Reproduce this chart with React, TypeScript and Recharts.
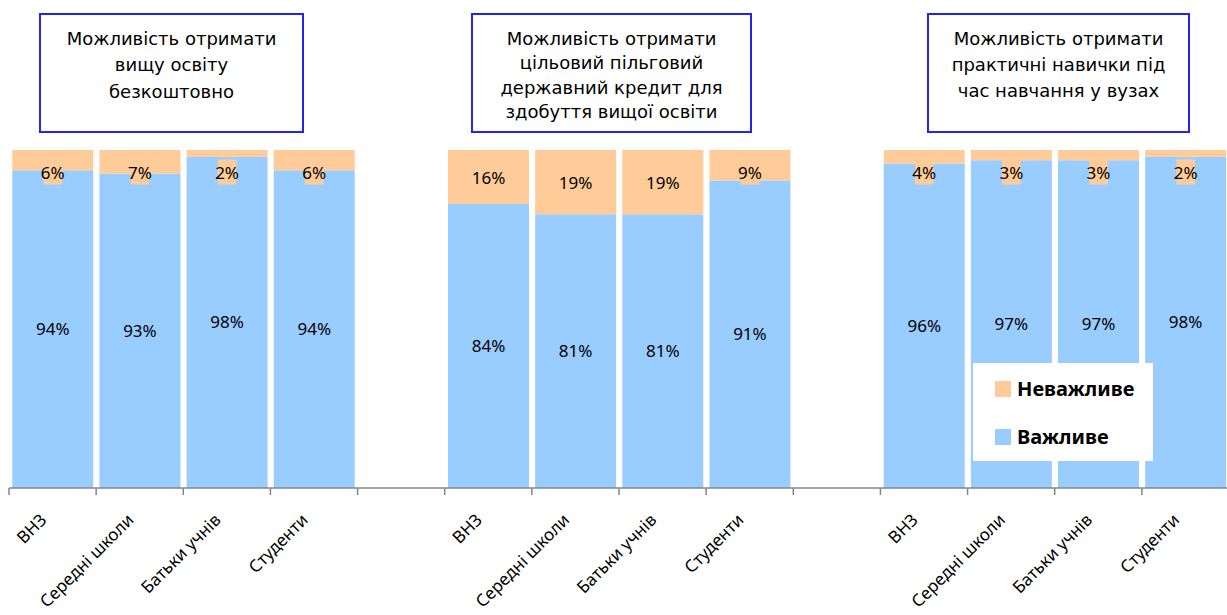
import React from 'react';
import { BarChart, Bar, XAxis, YAxis, LabelList } from 'recharts';

const groupLabels = ['ВНЗ', 'Середні школи', 'Батьки учнів', 'Студенти'];
const importantFree = [94, 93, 98, 94];
const unimportantFree = [6, 7, 2, 6];
const importantCredit = [84, 81, 81, 91];
const unimportantCredit = [16, 19, 19, 9];
const importantPractice = [96, 97, 97, 98];
const unimportantPractice = [4, 3, 3, 2];
const titles = [
  ['Можливість отримати', 'вищу освіту', 'безкоштовно'],
  ['Можливість отримати', 'цільовий пільговий', 'державний кредит для', 'здобуття вищої освіти'],
  ['Можливість отримати', 'практичні навички під', 'час навчання у вузах'],
];
const seriesNames = { important: 'Важливе', unimportant: 'Неважливе' };

const BLUE = '#99CCFF';
const ORANGE = '#FFCC99';

type Row = { name: string; important: number | null; unimportant: number | null };

const makeGroup = (imp: number[], unimp: number[]): Row[] =>
  groupLabels.map((name, i) => ({ name, important: imp[i], unimportant: unimp[i] }));
const blank = (): Row => ({ name: '', important: null, unimportant: null });

const data: Row[] = [
  ...makeGroup(importantFree, unimportantFree),
  blank(),
  ...makeGroup(importantCredit, unimportantCredit),
  blank(),
  ...makeGroup(importantPractice, unimportantPractice),
];

const CHART_W = 1230;
const MARGIN = { top: 150, right: 1, bottom: 0, left: 9 };
const AXIS_H = 127;
const BAND = (CHART_W - MARGIN.left - MARGIN.right) / data.length;

const FONT = '"Noto Sans", sans-serif';

const AxisTick = (props: any) => {
  const { x, y, payload, index } = props;
  const label = payload?.value as string;
  return (
    <g>
      <line x1={x - BAND / 2} x2={x - BAND / 2} y1={y} y2={y + 7} stroke="#868686" strokeWidth={1.5} />
      {index === data.length - 1 && (
        <line x1={x + BAND / 2} x2={x + BAND / 2} y1={y} y2={y + 7} stroke="#868686" strokeWidth={1.5} />
      )}
      {label ? (
        <text
          transform={`translate(${x - 5},${y + 33}) rotate(-45)`}
          textAnchor="end"
          fontSize={17}
          fontFamily={FONT}
          fill="#000"
        >
          {label}
        </text>
      ) : null}
    </g>
  );
};

const TopLabel = (props: any) => {
  const { x, y, width, height, value } = props;
  if (value == null) return null;
  const text = `${value}%`;
  const cx = x + width / 2;
  const cy = y + Math.max(height / 2, 22);
  const w = text.length * 9.3;
  return (
    <g>
      <rect x={cx - w / 2} y={cy - 12.5} width={w} height={25} fill={ORANGE} />
      <text x={cx} y={cy} textAnchor="middle" dominantBaseline="central" fontSize={17} fontFamily={FONT} fill="#000">
        {text}
      </text>
    </g>
  );
};

const boxes = [
  { left: 39, width: 265, lh: 26.5 },
  { left: 471, width: 281, lh: 24.5 },
  { left: 927, width: 263, lh: 26 },
];

export default function App() {
  return (
    <div style={{ position: 'absolute', left: 0, top: 0, width: 1227, height: 615, overflow: 'hidden', background: '#fff' }}>
      <BarChart width={CHART_W} height={615} data={data} margin={MARGIN} barCategoryGap={3.3}>
        <XAxis
          dataKey="name"
          interval={0}
          tickLine={false}
          tickSize={0}
          tickMargin={0}
          axisLine={{ stroke: '#868686', strokeWidth: 1.5 }}
          tick={<AxisTick />}
          height={AXIS_H}
        />
        <YAxis hide domain={[0, 100]} />
        <Bar dataKey="important" name={seriesNames.important} stackId="s" fill={BLUE} isAnimationActive={false}>
          <LabelList
            dataKey="important"
            position="center"
            formatter={(v: any) => (v == null ? '' : `${v}%`)}
            fontSize={17}
            fontFamily={FONT}
            fill="#000"
          />
        </Bar>
        <Bar dataKey="unimportant" name={seriesNames.unimportant} stackId="s" fill={ORANGE} isAnimationActive={false}>
          <LabelList dataKey="unimportant" content={<TopLabel />} />
        </Bar>
      </BarChart>
      {titles.map((lines, i) => (
        <div
          key={i}
          style={{
            position: 'absolute',
            left: boxes[i].left,
            top: 13,
            width: boxes[i].width,
            height: 120,
            boxSizing: 'border-box',
            border: '2px solid #2424F2',
            background: '#fff',
            fontFamily: '"DejaVu Sans", sans-serif',
            fontSize: 18,
            lineHeight: `${boxes[i].lh}px`,
            textAlign: 'center',
            paddingTop: 24 - boxes[i].lh / 2,
            color: '#000',
          }}
        >
          {lines.map((l, j) => (
            <div key={j}>{l}</div>
          ))}
        </div>
      ))}
      <div
        style={{
          position: 'absolute',
          left: 973,
          top: 363,
          width: 180,
          height: 98,
          background: '#fff',
          fontFamily: FONT,
          fontWeight: 700,
          fontSize: 20,
          color: '#000',
        }}
      >
        {[
          { name: seriesNames.unimportant, color: ORANGE, top: 18 },
          { name: seriesNames.important, color: BLUE, top: 66 },
        ].map((it) => (
          <div key={it.name} style={{ position: 'absolute', left: 22, top: it.top, display: 'flex', alignItems: 'center', height: 16 }}>
            <span style={{ display: 'inline-block', width: 16, height: 16, background: it.color, marginRight: 6 }} />
            <span style={{ lineHeight: '16px' }}>{it.name}</span>
          </div>
        ))}
      </div>
    </div>
  );
}
